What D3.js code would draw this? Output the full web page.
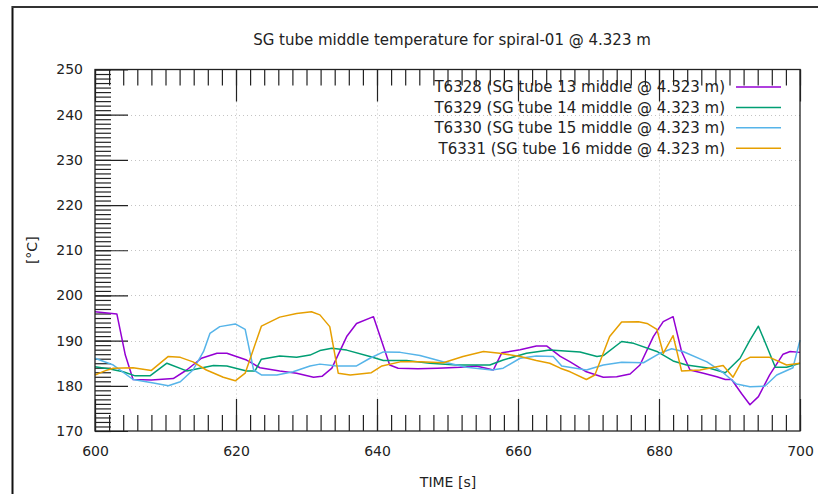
<!DOCTYPE html>
<html>
<head>
<meta charset="utf-8">
<script src="https://cdn.jsdelivr.net/npm/d3@7"></script>
<style>
  html, body { margin: 0; padding: 0; background: #fff; }
  svg { display: block; }
  text { font-family: "DejaVu Sans", sans-serif; fill: #222; }
</style>
</head>
<body>
<svg id="chart" width="818" height="494"></svg>
<script>
// Temperature traces, SG tube middle, spiral-01 @ 4.323 m
const titleText = "SG tube middle temperature for spiral-01 @ 4.323 m";
const xLabel = "TIME [s]";
const yLabel = "[°C]";

const xTickValues = [600, 620, 640, 660, 680, 700];
const yTickValues = [170, 180, 190, 200, 210, 220, 230, 240, 250];

const seriesNames = [
  "T6328 (SG tube 13 middle @ 4.323 m)",
  "T6329 (SG tube 14 middle @ 4.323 m)",
  "T6330 (SG tube 15 middle @ 4.323 m)",
  "T6331 (SG tube 16 midde @ 4.323 m)"
];
const seriesColors = ["#9400d3", "#009e73", "#56b4e9", "#e69f00"];

const t6328Time = [600, 603.1, 604.3, 605.4, 608, 611.1, 613, 615.1, 617.3, 618.7, 621.5, 623.4, 626.2, 628.6, 631, 632.2, 633.6, 635.7, 637.1, 639.5, 641.8, 643, 645.8, 648.6, 651.8, 654.1, 656.5, 657.7, 660.3, 662.6, 664.1, 666, 667.4, 669.7, 672.1, 674, 675.9, 677.3, 679.2, 680.6, 682, 683.2, 684.4, 686.3, 688.2, 689.4, 690.3, 691.7, 692.9, 694.1, 695.7, 697.6, 698.6, 700];
const t6328Temp = [196.4, 195.9, 186.8, 181.4, 181.3, 181.6, 183.5, 186.1, 187.2, 187.2, 185.7, 184, 183.3, 182.8, 181.9, 182.1, 183.9, 190.9, 193.8, 195.3, 184.6, 183.9, 183.8, 183.9, 184.1, 184.4, 183.5, 187.3, 188, 188.8, 188.8, 186.5, 185.3, 183.1, 181.9, 182, 182.6, 184.6, 190.9, 194.2, 195.3, 187.6, 183.5, 182.8, 182, 181.4, 181.4, 178.3, 175.8, 177.6, 182.4, 187, 187.6, 187.4];

const t6329Time = [600, 602.1, 604, 605.7, 607.8, 610.2, 613, 614.9, 616.8, 618.7, 621.5, 622.7, 623.6, 626.2, 628.6, 630.5, 631.9, 633.6, 635.7, 639, 640.9, 644.2, 647.5, 651.3, 656, 657.9, 661.2, 664.5, 668.8, 671.2, 672.1, 674.7, 676.4, 679.7, 682, 683.9, 687.2, 689.4, 691.5, 692.9, 694.1, 695.3, 696.5, 698.1, 700];
const t6329Temp = [184.2, 183.7, 183.1, 182.2, 182.2, 185, 183.3, 183.9, 184.5, 184.4, 183.3, 183.3, 185.9, 186.6, 186.3, 186.8, 187.8, 188.3, 187.9, 186.5, 185.6, 185.6, 185, 184.6, 184.6, 185.7, 187.2, 187.9, 187.5, 186.5, 186.7, 189.8, 189.4, 187.6, 185.5, 184.6, 183.9, 182.9, 186.1, 190.1, 193.2, 188.7, 184.1, 184.1, 185];

const t6330Time = [600, 602.6, 605.4, 608.3, 610.4, 612.1, 613.9, 615.4, 616.3, 617.7, 619.9, 621.3, 622.5, 623.6, 625.8, 628.1, 630.5, 631.9, 634.3, 637.1, 639, 640.9, 643.3, 646.1, 649.9, 652.7, 656.3, 657.9, 660.3, 662.6, 665, 666.2, 669.7, 672.1, 674.7, 677.8, 680.1, 681.8, 683.4, 686.8, 689.1, 691, 692.9, 695, 696.7, 699, 700];
const t6330Temp = [186.1, 184.6, 181.4, 180.6, 180, 180.9, 183.5, 187.6, 191.6, 193.1, 193.7, 192.5, 183.5, 182.4, 182.4, 183.1, 184.4, 184.8, 184.4, 184.4, 186.1, 187.5, 187.4, 186.7, 185.1, 184.1, 183.5, 183.9, 186.1, 186.6, 186.5, 184.4, 183.5, 184.6, 185.2, 185.1, 187.2, 188.2, 187.6, 185.3, 182.9, 180.4, 179.8, 179.9, 182.4, 184, 190.1];

const t6331Time = [600, 601.4, 602.6, 605.4, 608, 610.4, 612.1, 613.9, 615.8, 618.2, 619.9, 621.3, 623.6, 626.2, 628.6, 630.7, 631.9, 633.3, 634.5, 636.2, 639.2, 640.7, 643.3, 646.1, 649.4, 652.2, 655.1, 657.4, 660.3, 662.6, 664.5, 666, 667.4, 669.7, 670.9, 673, 674.7, 677.1, 678.3, 679.7, 680.6, 682, 683.2, 685.8, 689.1, 690.5, 691.7, 692.9, 695.7, 698.1, 700];
const t6331Temp = [182.4, 183.3, 183.9, 184, 183.4, 186.5, 186.3, 185.3, 183.5, 181.9, 181.1, 182.8, 193.2, 195.2, 196, 196.4, 195.7, 193.1, 182.8, 182.4, 182.9, 184.4, 185.3, 185.3, 185.1, 186.5, 187.6, 187.2, 186.5, 185.6, 185, 183.9, 183.1, 181.4, 182.4, 190.9, 194.1, 194.2, 193.8, 192.5, 187.2, 191.1, 183.3, 183.5, 184.5, 181.9, 185.3, 186.3, 186.3, 184.6, 185];

const seriesTimes = [t6328Time, t6329Time, t6330Time, t6331Time];
const seriesTemps = [t6328Temp, t6329Temp, t6330Temp, t6331Temp];

const svg = d3.select("#chart");
const W = 818, H = 494;
const m = { left: 95, right: 800, top: 69.5, bottom: 431 };

const x = d3.scaleLinear().domain([600, 700]).range([m.left, m.right]);
const y = d3.scaleLinear().domain([170, 250]).range([m.bottom, m.top]);

// window frame (left and top edges)
svg.append("line").attr("x1", 12.5).attr("x2", 12.5).attr("y1", 6).attr("y2", H)
  .attr("stroke", "#111").attr("stroke-width", 2);
svg.append("line").attr("x1", 12).attr("x2", W).attr("y1", 7).attr("y2", 7)
  .attr("stroke", "#333").attr("stroke-width", 2);

// title
svg.append("text").attr("x", 452).attr("y", 45).attr("text-anchor", "middle")
  .style("font-size", "15px").text(titleText);

// dotted grid at the major ticks
const grid = svg.append("g").attr("stroke", "#c4c4c4").attr("stroke-width", 1)
  .attr("stroke-dasharray", "1,3");
grid.selectAll(".gx").data(xTickValues.slice(1, -1)).join("line")
  .attr("x1", d => Math.round(x(d)) + 0.5).attr("x2", d => Math.round(x(d)) + 0.5)
  .attr("y1", m.top).attr("y2", m.bottom);
grid.selectAll(".gy").data(yTickValues.slice(1, -1)).join("line")
  .attr("x1", m.left).attr("x2", m.right)
  .attr("y1", d => Math.round(y(d)) + 0.5).attr("y2", d => Math.round(y(d)) + 0.5);

// inward ticks: minor every 2 s / 1 °C, major at labelled values
const xMinor = d3.range(600, 700.001, 2);
const yMinor = d3.range(170, 250.001, 1);
const tickColor = "#222";

function styleAxis(g) {
  g.select(".domain").remove();
  g.selectAll(".tick line").attr("stroke", tickColor).attr("stroke-width", 1.2);
  g.selectAll(".tick text").remove();
}
svg.append("g").attr("transform", `translate(0,${m.bottom})`)
  .call(d3.axisBottom(x).tickValues(xMinor).tickSize(-16)).call(styleAxis);
svg.append("g").attr("transform", `translate(0,${m.bottom})`)
  .call(d3.axisBottom(x).tickValues(xTickValues).tickSize(-32)).call(styleAxis);
svg.append("g").attr("transform", `translate(0,${m.top})`)
  .call(d3.axisTop(x).tickValues(xMinor).tickSize(-16)).call(styleAxis);
svg.append("g").attr("transform", `translate(0,${m.top})`)
  .call(d3.axisTop(x).tickValues(xTickValues).tickSize(-32)).call(styleAxis);
svg.append("g").attr("transform", `translate(${m.left},0)`)
  .call(d3.axisLeft(y).tickValues(yMinor).tickSize(-16)).call(styleAxis);
svg.append("g").attr("transform", `translate(${m.left},0)`)
  .call(d3.axisLeft(y).tickValues(yTickValues).tickSize(-33)).call(styleAxis);

// tick labels
const labelAxis = g => {
  g.select(".domain").remove();
  g.selectAll(".tick line").remove();
  g.selectAll(".tick text").style("font-size", "14px").attr("fill", "#222")
    .style("font-family", "'DejaVu Sans', sans-serif");
};
svg.append("g").attr("transform", `translate(0,${m.bottom})`)
  .call(d3.axisBottom(x).tickValues(xTickValues).tickSize(0).tickPadding(15)
    .tickFormat(d3.format("d"))).call(labelAxis);
svg.append("g").attr("transform", `translate(${m.left},0)`)
  .call(d3.axisLeft(y).tickValues(yTickValues).tickSize(0).tickPadding(12)
    .tickFormat(d3.format("d"))).call(labelAxis);

// axis titles
svg.append("text").attr("x", 448).attr("y", 487).attr("text-anchor", "middle")
  .style("font-size", "14px").text(xLabel);
svg.append("text").attr("transform", `translate(37,${(m.top + m.bottom) / 2}) rotate(-90)`)
  .attr("text-anchor", "middle").style("font-size", "14px").text(yLabel);

// data lines
const line = d3.line().x(d => x(d[0])).y(d => y(d[1]));
const plot = svg.append("g");
seriesTimes.forEach((ts, i) => {
  const pts = ts.map((t, k) => [t, seriesTemps[i][k]]);
  plot.append("path").datum(pts).attr("d", line)
    .attr("fill", "none").attr("stroke", seriesColors[i])
    .attr("stroke-width", 1.5).attr("stroke-linejoin", "round");
});

// plot border
svg.append("rect").attr("x", m.left).attr("y", m.top)
  .attr("width", m.right - m.left).attr("height", m.bottom - m.top)
  .attr("fill", "none").attr("stroke", "#222").attr("stroke-width", 1.3);

// legend
const legend = svg.append("g");
seriesNames.forEach((name, i) => {
  const ly = 87 + i * 20.4;
  legend.append("text").attr("x", 725).attr("y", ly).attr("dy", "0.36em")
    .attr("text-anchor", "end").style("font-size", "15px").text(name);
  legend.append("line").attr("x1", 736).attr("x2", 781).attr("y1", ly).attr("y2", ly)
    .attr("stroke", seriesColors[i]).attr("stroke-width", 1.5);
});
</script>
</body>
</html>
